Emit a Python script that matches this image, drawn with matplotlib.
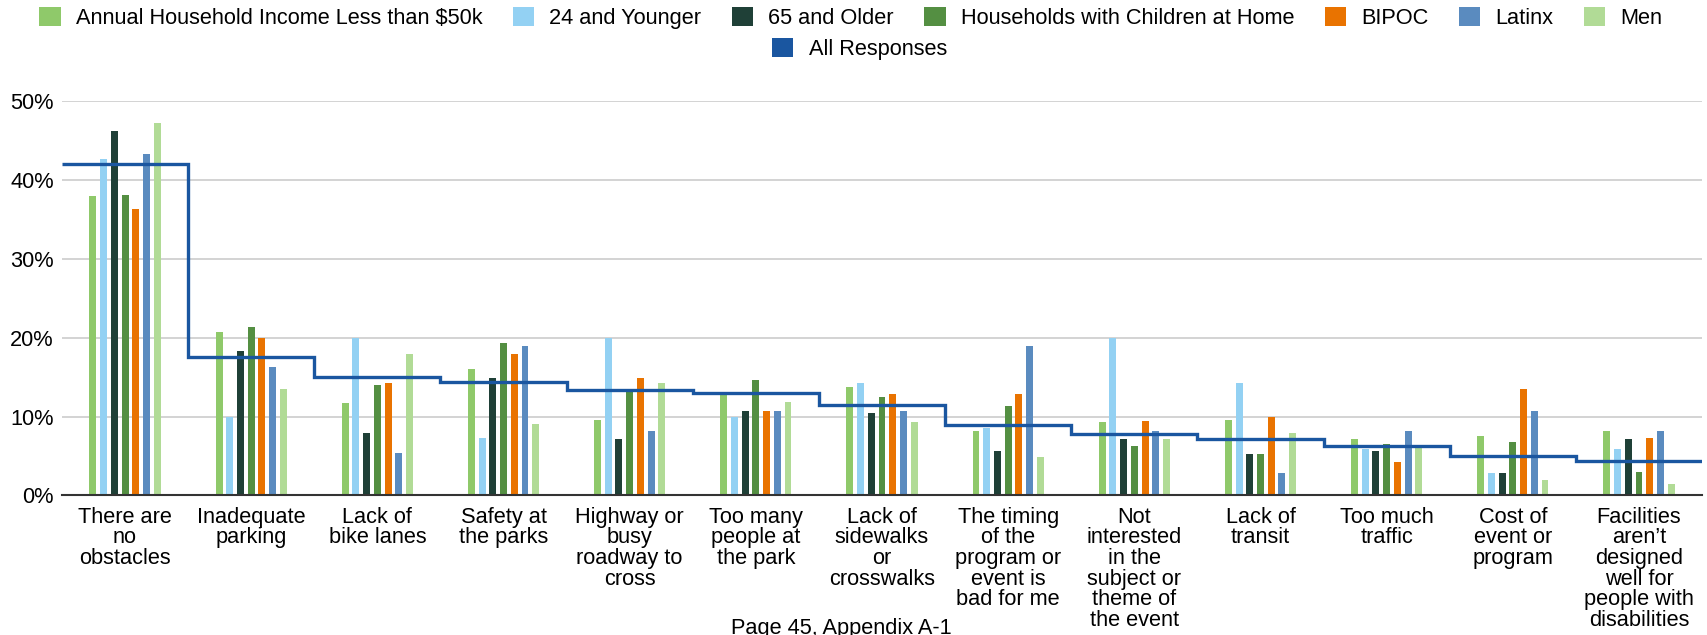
import matplotlib.pyplot as plt
import numpy as np
from matplotlib.patches import Patch

# =========================
# DATA (percent of respondents)
# =========================
categories = [
    "There are\nno\nobstacles",
    "Inadequate\nparking",
    "Lack of\nbike lanes",
    "Safety at\nthe parks",
    "Highway or\nbusy\nroadway to\ncross",
    "Too many\npeople at\nthe park",
    "Lack of\nsidewalks\nor\ncrosswalks",
    "The timing\nof the\nprogram or\nevent is\nbad for me",
    "Not\ninterested\nin the\nsubject or\ntheme of\nthe event",
    "Lack of\ntransit",
    "Too much\ntraffic",
    "Cost of\nevent or\nprogram",
    "Facilities\naren\u2019t\ndesigned\nwell for\npeople with\ndisabilities",
]

income_lt_50k = [37.9, 20.7, 11.7, 16.0, 9.6, 12.8, 13.7, 8.2, 9.3, 9.6, 7.1, 7.5, 8.2]
age_24_younger = [42.7, 9.9, 20.0, 7.3, 20.0, 10.0, 14.2, 8.6, 20.0, 14.2, 5.9, 2.8, 5.9]
age_65_older = [46.2, 18.3, 7.9, 14.9, 7.1, 10.7, 10.5, 5.7, 7.1, 5.2, 5.7, 2.8, 7.1]
hh_children = [38.1, 21.4, 14.0, 19.3, 13.3, 14.7, 12.5, 11.4, 6.3, 5.2, 6.5, 6.8, 3.0]
bipoc = [36.3, 20.0, 14.2, 17.9, 14.9, 10.7, 12.8, 12.8, 9.4, 10.0, 4.2, 13.5, 7.3]
latinx = [43.3, 16.3, 5.4, 18.9, 8.2, 10.7, 10.7, 18.9, 8.2, 2.8, 8.2, 10.7, 8.2]
men = [47.2, 13.5, 17.9, 9.1, 14.2, 11.9, 9.3, 4.9, 7.1, 7.9, 6.3, 2.0, 1.5]
all_responses = [42.0, 17.6, 15.0, 14.4, 13.4, 13.0, 11.5, 8.9, 7.8, 7.1, 6.3, 5.0, 4.4]

series_names = [
    "Annual Household Income Less than $50k",
    "24 and Younger",
    "65 and Older",
    "Households with Children at Home",
    "BIPOC",
    "Latinx",
    "Men",
]
series_values = [income_lt_50k, age_24_younger, age_65_older, hh_children,
                 bipoc, latinx, men]
series_colors = ["#8fc96a", "#93d1f3", "#1f4037", "#548f42",
                 "#e97300", "#5a8bbf", "#b1db96"]
all_color = "#1a56a0"

plt.rcParams["font.family"] = ["Liberation Sans", "DejaVu Sans"]
FS = 15.7

# =========================
# FIGURE
# =========================
fig = plt.figure(figsize=(17.07, 6.35), dpi=100, facecolor="white")
ax = fig.add_axes([0.0363, 0.2197, 0.9608, 0.6213])

x = np.arange(len(categories))
slot = 0.085
bar_w = 0.055
for i, (vals, col) in enumerate(zip(series_values, series_colors)):
    ax.bar(x + (i - 3) * slot, vals, width=bar_w, color=col, zorder=2)

# All Responses as a step line across each category
ax.stairs(all_responses, np.arange(len(categories) + 1) - 0.5,
          color=all_color, linewidth=2.4, baseline=None, zorder=3)

ax.set_xlim(-0.5, len(categories) - 0.5)
ax.set_ylim(0, 50)
ax.set_yticks([0, 10, 20, 30, 40, 50])
ax.set_yticklabels([f"{v}%" for v in [0, 10, 20, 30, 40, 50]])
ax.set_xticks(x)
ax.set_xticklabels(categories, fontsize=FS, linespacing=0.98, va="top")
ax.tick_params(axis="x", length=0, pad=8)
ax.tick_params(axis="y", length=0, pad=6, labelsize=FS)

ax.grid(axis="y", color="#cccccc", linewidth=1.2, zorder=0)
ax.set_axisbelow(True)
for s in ["top", "right", "left"]:
    ax.spines[s].set_visible(False)
ax.spines["bottom"].set_color("#333333")
ax.spines["bottom"].set_linewidth(1.5)
ax.spines["bottom"].set_zorder(4)

# =========================
# LEGEND (two rows)
# =========================
handles = [Patch(facecolor=c, edgecolor="none") for c in series_colors]
fig.legend(handles, series_names, loc="center", bbox_to_anchor=(0.4985, 0.971),
           ncol=7, frameon=False, fontsize=FS, handlelength=0.97,
           handleheight=0.97, columnspacing=1.4, handletextpad=0.7,
           borderpad=0, borderaxespad=0)
fig.legend([Patch(facecolor=all_color, edgecolor="none")], ["All Responses"],
           loc="center", bbox_to_anchor=(0.5035, 0.923), frameon=False,
           fontsize=FS, handlelength=0.97, handleheight=0.97, handletextpad=0.7,
           borderpad=0, borderaxespad=0)

fig.text(0.4927, 0.027, "Page 45, Appendix A-1", ha="center", va="top",
         fontsize=FS)

plt.savefig("out.png", dpi=100, facecolor=fig.get_facecolor())
